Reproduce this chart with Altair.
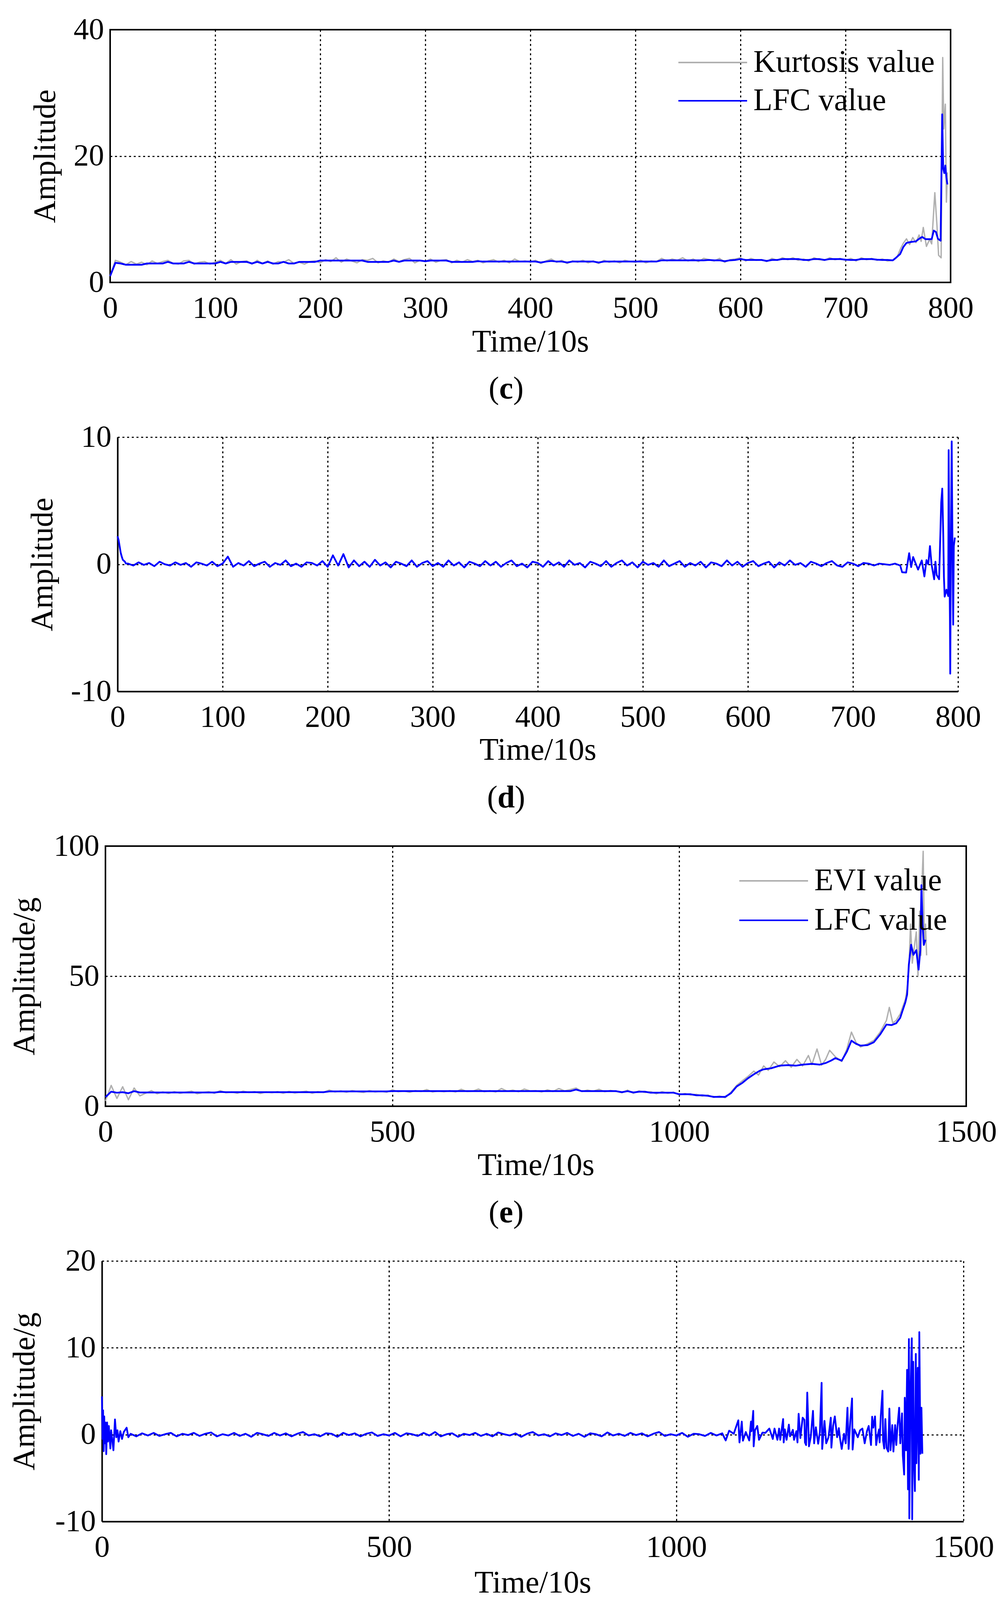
import altair as alt
import pandas as pd

FONT = "Liberation Serif"
BLUE = "#0000ff"
GRAY = "#b0b0b0"

# ---------------- panel (c): Kurtosis value / LFC value ----------------
# values every 5 units from t=0 to t=740
c_lfc_main = [
    1.0, 3.1, 3.0, 2.8, 2.8, 2.8, 2.8, 3.0, 3.0, 3.0,
    3.0, 3.25, 3.0, 3.0, 3.0, 3.25, 3.0, 3.0, 3.0, 3.0,
    3.0, 3.25, 3.0, 3.25, 3.25, 3.25, 3.25, 3.0, 3.25, 3.0,
    3.25, 3.0, 3.0, 3.25, 3.0, 3.0, 3.25, 3.25, 3.25, 3.25,
    3.46, 3.46, 3.46, 3.46, 3.46, 3.46, 3.46, 3.46, 3.46, 3.25,
    3.25, 3.25, 3.25, 3.25, 3.46, 3.25, 3.46, 3.46, 3.46, 3.46,
    3.35, 3.46, 3.46, 3.46, 3.46, 3.25, 3.25, 3.25, 3.25, 3.25,
    3.35, 3.3, 3.3, 3.3, 3.3, 3.3, 3.3, 3.3, 3.3, 3.3,
    3.3, 3.3, 3.15, 3.3, 3.4, 3.3, 3.3, 3.15, 3.3, 3.3,
    3.3, 3.3, 3.3, 3.15, 3.3, 3.3, 3.3, 3.3, 3.3, 3.3,
    3.3, 3.3, 3.3, 3.3, 3.3, 3.5, 3.5, 3.5, 3.5, 3.5,
    3.5, 3.5, 3.5, 3.5, 3.55, 3.5, 3.5, 3.35, 3.5, 3.55,
    3.7, 3.55, 3.55, 3.55, 3.55, 3.4, 3.55, 3.55, 3.7, 3.7,
    3.7, 3.7, 3.55, 3.55, 3.7, 3.7, 3.55, 3.7, 3.7, 3.7,
    3.6, 3.55, 3.55, 3.7, 3.7, 3.7, 3.6, 3.55, 3.55,
]
c_kurt_main = [
    1.0, 3.5, 3.2, 2.8, 3.3, 2.9, 3.2, 2.8, 3.4, 3.0,
    3.3, 3.5, 3.0, 2.9, 3.4, 3.5, 2.9, 3.2, 3.3, 2.9,
    3.2, 3.5, 3.0, 3.6, 2.9, 3.3, 3.4, 2.9, 3.5, 3.0,
    3.4, 2.9, 3.3, 3.2, 3.6, 3.0, 3.2, 2.9, 3.3, 3.4,
    3.1, 3.6, 3.3, 3.9, 3.2, 3.7, 3.4, 3.1, 3.6, 3.5,
    3.8, 3.1, 3.4, 3.2, 3.7, 3.3, 3.6, 3.8, 3.1, 3.5,
    3.3, 3.7, 3.2, 3.5, 3.6, 3.1, 3.5, 3.2, 3.6, 3.3,
    3.5, 3.1, 3.4, 3.6, 3.2, 3.5, 3.1, 3.7, 3.3, 3.4,
    3.2, 3.5, 3.0, 3.4, 3.7, 3.2, 3.5, 3.0, 3.4, 3.2,
    3.5, 3.1, 3.4, 3.0, 3.5, 3.2, 3.4, 3.1, 3.5, 3.3,
    3.2, 3.5, 3.1, 3.4, 3.3, 3.8, 3.4, 3.7, 3.5, 3.9,
    3.4, 3.7, 3.3, 3.8, 3.6, 3.4, 3.8, 3.2, 3.6, 3.7,
    3.9, 3.4, 3.8, 3.5, 3.6, 3.3, 3.8, 3.5, 3.9, 3.6,
    3.9, 3.5, 3.7, 3.4, 3.9, 3.6, 3.5, 3.9, 3.6, 3.8,
    3.5, 3.8, 3.4, 3.9, 3.6, 3.8, 3.5, 3.7, 3.4,
]
c_lfc_end_t = [745, 748, 752, 755, 758, 762, 767, 770, 773, 776, 782, 784, 786, 788, 790.5,
               792, 793, 794, 795, 796, 797]
c_lfc_end_v = [3.5, 3.9, 4.5, 5.6, 6.25, 6.4, 6.5, 6.9, 7.2, 6.85, 6.85, 8.2, 8.0, 6.9, 6.6,
               26.6, 18.0, 17.3, 18.5, 16.6, 15.5]
c_kurt_end_t = [745, 749, 752, 755, 758, 761, 764, 767, 770, 772, 774, 777, 780, 782, 785,
                787, 788.6, 791, 792.5, 793.5, 795, 796, 797]
c_kurt_end_v = [3.5, 4.0, 5.2, 6.2, 6.9, 6.0, 7.1, 6.3, 7.5, 6.5, 8.7, 5.7, 6.8, 6.1, 14.2,
                9.1, 4.3, 3.9, 35.6, 24.3, 28.2, 12.7, 17.4]

# ---------------- panel (d): LFC difference ----------------
d_start_t = [0, 1, 2, 3, 4, 5, 7, 8]
d_start_v = [2.2, 1.9, 1.4, 0.9, 0.6, 0.35, 0.2, 0.05]
# values every 5 units from t=10 to t=745
d_main = [
    0.05, -0.1, 0.15, -0.05, 0.1, -0.15, 0.2, 0.0, -0.1, 0.15,
    -0.05, 0.1, -0.2, 0.15, 0.05, -0.1, 0.2, -0.15, 0.05, 0.6,
    -0.2, 0.1, -0.1, 0.25, -0.15, 0.05, 0.2, -0.2, 0.1, -0.05,
    0.3, -0.15, 0.05, -0.2, 0.15, 0.1, -0.1, 0.25, -0.2, 0.7,
    -0.1, 0.8, -0.25, 0.3, -0.15, 0.2, -0.2, 0.35, -0.1, 0.15,
    -0.25, 0.2, 0.05, -0.15, 0.3, -0.2, 0.1, 0.25, -0.15, 0.1,
    -0.2, 0.3, -0.1, 0.15, -0.25, 0.2, 0.05, -0.15, 0.25, -0.1,
    0.2, -0.2, 0.1, 0.3, -0.15, 0.05, -0.25, 0.2, 0.1, -0.2,
    0.25, -0.1, 0.15, -0.2, 0.3, -0.05, 0.1, -0.25, 0.2, 0.05,
    -0.15, 0.25, -0.2, 0.1, 0.3, -0.1, 0.15, -0.25, 0.2, -0.05,
    0.1, -0.2, 0.3, -0.15, 0.05, 0.25, -0.2, 0.1, -0.1, 0.2,
    -0.25, 0.15, 0.05, -0.15, 0.3, -0.1, 0.2, -0.2, 0.1, 0.25,
    -0.15, 0.05, 0.2, -0.25, 0.15, -0.1, 0.3, -0.05, 0.1, -0.2,
    0.2, 0.05, -0.15, 0.1, 0.25, -0.1, -0.2, 0.15, 0.05, -0.15,
    0.1, 0.05, -0.1, 0.05, 0.0, -0.05, 0.05, -0.1,
]
d_end_t = [746.8, 750.6, 753.5, 755.4, 757.3, 759, 762, 765.5, 768, 770, 771.7, 773.3, 774.8,
           777.3, 778.5, 779.7, 782, 783.2, 784, 785, 786, 786.6, 787.3, 789, 790.7, 791.1,
           791.6, 792.3, 792.6, 793.3, 794, 794.8, 795.4, 796, 797]
d_end_v = [-0.63, -0.65, 0.87, -0.22, 0.57, 0.2, -0.42, 0.3, -0.96, 0.33, 0.0, 1.43, 0.0,
           -1.18, 0.2, -0.85, -1.18, 2.38, 4.85, 5.95, 2.1, -1.0, -2.55, -2.0, -2.5, 8.98,
           2.1, -4.3, -8.6, 2.66, 9.66, 0.7, -4.75, 1.43, 2.1]

# ---------------- panel (e): EVI value / LFC value ----------------
# values every 10 units from t=0 to t=1080
e_lfc_main = [
    3.5, 5.6, 5.2, 5.4, 5.0, 5.8, 5.3, 5.3, 5.3, 5.3,
    5.3, 5.3, 5.3, 5.3, 5.3, 5.3, 5.3, 5.3, 5.3, 5.3,
    5.5, 5.4, 5.4, 5.4, 5.4, 5.4, 5.4, 5.4, 5.4, 5.4,
    5.4, 5.4, 5.4, 5.4, 5.4, 5.4, 5.4, 5.4, 5.4, 5.7,
    5.7, 5.7, 5.7, 5.7, 5.7, 5.7, 5.7, 5.7, 5.7, 5.7,
    5.8, 5.8, 5.8, 5.8, 5.8, 5.8, 5.8, 5.8, 5.8, 5.8,
    5.8, 5.8, 5.8, 5.8, 5.8, 5.8, 5.8, 5.8, 5.8, 5.8,
    5.8, 5.8, 5.8, 5.8, 5.8, 5.8, 5.8, 5.8, 5.8, 5.8,
    5.8, 5.8, 6.4, 5.8, 5.8, 5.8, 5.8, 5.8, 5.8, 5.8,
    5.4, 5.8, 5.3, 5.6, 5.6, 5.2, 5.2, 5.2, 5.2, 5.2,
    4.6, 4.6, 4.6, 4.2, 4.2, 4.0, 3.6, 3.6, 3.6,
]
e_evi_main = [
    2.0, 8.0, 3.0, 7.5, 2.5, 7.0, 4.0, 5.0, 6.0, 4.8,
    5.5, 4.9, 5.6, 5.0, 5.4, 5.8, 4.8, 5.3, 5.6, 5.0,
    6.0, 5.2, 5.5, 5.0, 5.8, 5.3, 5.6, 4.9, 5.5, 5.2,
    5.6, 5.0, 5.7, 5.1, 5.5, 5.8, 5.0, 5.6, 5.3, 6.2,
    5.5, 5.9, 5.4, 6.0, 5.6, 5.3, 6.0, 5.5, 5.8, 5.4,
    6.3, 5.6, 5.9, 5.4, 6.0, 5.7, 6.4, 5.5, 5.9, 5.6,
    6.0, 5.5, 6.5, 5.7, 5.8, 6.6, 5.6, 6.0, 5.5, 6.8,
    5.8, 6.2, 5.6, 6.6, 5.9, 6.0, 5.5, 6.3, 5.7, 6.8,
    5.9, 6.4, 7.0, 5.7, 6.2, 5.8, 6.5, 5.6, 6.1, 5.7,
    5.2, 6.2, 5.0, 5.9, 5.3, 5.6, 4.8, 5.6, 5.0, 5.4,
    4.4, 4.9, 4.3, 4.6, 3.9, 4.3, 3.4, 3.9, 3.3,
]
e_lfc_end_t = [1090, 1100, 1110, 1120, 1130, 1140, 1147, 1160, 1175, 1190, 1203, 1215, 1231,
               1245, 1255, 1265, 1272, 1283, 1292, 1300, 1308, 1316, 1328, 1339, 1350, 1361,
               1370, 1378, 1385, 1389, 1394, 1397, 1400, 1404, 1408, 1413, 1417, 1420, 1422,
               1424, 1426, 1429]
e_lfc_end_v = [5.0, 7.6, 9.0, 10.8, 12.3, 13.6, 14.2, 14.6, 15.6, 15.8, 15.6, 16.0, 16.3,
               16.0, 16.6, 17.6, 18.5, 17.5, 21.0, 25.2, 24.0, 23.3, 23.5, 24.6, 27.6, 31.4,
               31.2, 31.9, 34.0, 36.7, 40.0, 42.9, 54.4, 62.1, 58.2, 60.0, 52.5, 60.0, 85.0,
               70.0, 62.0, 64.0]
e_evi_end_t = [1090, 1100, 1110, 1120, 1130, 1138, 1147, 1155, 1165, 1175, 1185, 1195, 1205,
               1215, 1225, 1231, 1240, 1248, 1255, 1262, 1272, 1283, 1292, 1300, 1308, 1316,
               1328, 1339, 1350, 1361, 1366, 1372, 1378, 1385, 1389, 1394, 1397, 1400, 1403,
               1406, 1410, 1413, 1416, 1419, 1421, 1423, 1425, 1427, 1429, 1431]
e_evi_end_v = [5.4, 8.0, 9.8, 11.5, 13.5, 12.0, 15.5, 13.8, 17.0, 15.2, 17.5, 15.0, 18.0,
               15.5, 19.5, 16.0, 22.0, 15.8, 18.0, 21.5, 19.0, 17.2, 22.0, 28.5, 24.5, 22.8,
               24.0, 25.3, 28.5, 33.0, 38.0, 32.0, 33.0, 35.5, 38.0, 41.0, 45.0, 52.0, 70.0,
               55.0, 62.0, 67.0, 50.0, 75.0, 58.0, 86.0, 98.0, 62.0, 70.0, 58.0]

# ---------------- panel (f): EVI-based LFC difference ----------------
f_start_t = [0, 1, 2, 3, 4, 5, 6, 7.5, 9, 10.5, 12, 14.7, 16, 18, 20, 22.7, 25, 27, 29, 32,
             35, 38, 43, 46]
f_start_v = [4.4, -0.5, 2.8, -1.9, 2.1, -1.0, 1.4, -2.25, 1.4, -0.8, 1.0, -1.6, 0.5, -0.6,
             -1.8, 1.75, -0.3, 0.5, -0.8, 0.4, -0.5, 0.3, 0.8, -0.3]
# values every 10 units from t=50 to t=1080
f_main = [
    0.1, -0.2, 0.15, -0.1, 0.2, -0.15, 0.05, 0.2, -0.2, 0.1,
    -0.05, 0.2, -0.15, 0.1, 0.25, -0.2, 0.05, -0.1, 0.2, -0.15,
    0.1, -0.25, 0.2, 0.05, -0.15, 0.2, -0.1, 0.15, -0.2, 0.1,
    0.3, -0.1, 0.05, -0.2, 0.15, 0.1, -0.25, 0.2, -0.05, 0.15,
    -0.2, 0.1, 0.25, -0.15, 0.05, -0.1, 0.2, -0.2, 0.15, 0.05,
    -0.15, 0.2, -0.1, 0.3, -0.2, 0.05, 0.15, -0.25, 0.1, -0.05,
    0.2, -0.15, 0.1, -0.2, 0.25, 0.05, -0.1, 0.15, -0.25, 0.1,
    0.3, -0.1, 0.05, -0.2, 0.15, -0.05, 0.2, -0.15, 0.1, -0.25,
    0.15, 0.05, -0.2, 0.25, -0.1, 0.1, -0.15, 0.2, -0.05, 0.15,
    -0.2, 0.1, 0.3, -0.15, 0.05, -0.1, 0.2, -0.25, 0.1, 0.05,
    -0.15, 0.2, -0.1, 0.15,
]
f_end_t = [1086, 1092, 1100, 1108, 1110, 1114, 1116, 1121, 1127, 1130, 1131, 1134, 1134.7,
           1137, 1141, 1144, 1150, 1155, 1162, 1168, 1171, 1176, 1179, 1181, 1186, 1187, 1189,
           1192, 1196, 1198, 1203, 1205, 1209, 1211, 1213, 1216, 1220, 1223, 1224, 1226, 1228,
           1231, 1234, 1238, 1240, 1243, 1247, 1250, 1253, 1254, 1258, 1261, 1265, 1269, 1270,
           1273, 1276, 1280, 1283, 1285, 1288, 1292, 1295, 1298, 1300, 1303, 1306, 1307, 1310,
           1316, 1320, 1324, 1328, 1332, 1335, 1339, 1341, 1343, 1346, 1348, 1350, 1353, 1354,
           1356, 1359, 1360, 1362, 1364, 1366, 1369, 1371, 1373, 1376, 1378, 1381, 1383, 1385,
           1388, 1390, 1393, 1394.4, 1396.7, 1397.8, 1400, 1401.8, 1403.4, 1405, 1405.7, 1408,
           1410, 1410.7, 1412.5, 1413.6, 1415.4, 1417, 1418, 1420.4, 1422.2, 1423.1, 1425,
           1426.8, 1428.4]
f_end_v = [-0.67, 0.45, 0.1, 1.65, -0.9, 1.5, -0.7, 0.3, -0.67, 1.5, 0.4, 2.74, -1.35,
           0.5, 1.0, -0.6, 0.23, 0.2, 0.7, -0.5, 0.7, -0.6, 0.7, -0.6, 1.8, -0.9, 0.6,
           -0.6, 1.15, -0.2, 0.55, -0.6, 0.4, -0.9, 2.4, -0.4, 1.95, 1.7, -0.9, -1.2, 4.84,
           -1.35, -0.3, 2.74, -1.0, 0.85, -1.05, 0.3, 5.97, -1.65, 1.58, -1.0, -0.3, 1.95, -1.5,
           1.0, 2.1, -0.3, 0.75, -0.4, -1.65, 0.1, -1.0, 3.1, -1.65, 1.65, 4.17, -1.72, 0.6,
           -0.3, 0.5, 0.7, -1.0, 0.4, 1.0, -1.2, 2.06, 0.8, 2.1, -1.2, -0.3, 0.6, -0.9,
           2.1, 5.06, -0.65, -1.6, 1.8, -1.5, -1.95, 3.0, -1.8, 1.1, -1.95, 1.1, -1.2, 0.9,
           3.1, -1.0, 2.45, -2.4, -4.6, 4.25, -1.8, 7.46, -6.3, 11.0, -9.65, 5.4,
           11.1, -9.75, 8.4, -2.4, -6.5, 9.3, -3.3, 7.7, -5.2, 11.8, -2.2,
           3.1, -2.2]


def frame(t, v, name=""):
    return pd.DataFrame({"t": t, "v": v, "series": [name] * len(t)})


def x_axis(ticks, title_y, domain_line):
    return alt.Axis(
        values=ticks, grid=True, gridColor="black", gridDash=[5, 7], gridWidth=3,
        gridOpacity=1, domain=domain_line, domainColor="black", domainWidth=4,
        ticks=False, tickSize=0, labelFont=FONT, labelFontSize=78, labelColor="black",
        labelPadding=27, labelFlush=False, labelOverlap=False,
        labelExpr="'' + datum.value",
        title="Time/10s", titleFont=FONT, titleFontSize=80, titleFontWeight="normal",
        titleColor="black", titleBaseline="alphabetic", titleY=title_y,
    )


def y_axis(ticks, title, title_x, height, domain_line):
    return alt.Axis(
        values=ticks, grid=True, gridColor="black", gridDash=[5, 7], gridWidth=3,
        gridOpacity=1, domain=domain_line, domainColor="black", domainWidth=4,
        ticks=False, tickSize=0, labelFont=FONT, labelFontSize=78, labelColor="black",
        labelPadding=16, labelFlush=False, labelOverlap=False,
        labelExpr="'' + datum.value",
        title=title, titleFont=FONT, titleFontSize=80, titleFontWeight="normal",
        titleColor="black", titleBaseline="alphabetic", titleAngle=270,
        titleX=title_x, titleY=height / 2,
    )


def caption(letter, cx, cy, wletter):
    one = pd.DataFrame({"k": [0]})
    base = alt.Chart(one)
    lp = base.mark_text(text="(", font=FONT, fontSize=80, align="right",
                        baseline="alphabetic", color="black").encode(
        x=alt.value(cx - wletter / 2), y=alt.value(cy))
    lt = base.mark_text(text=letter, font=FONT, fontSize=80, fontWeight="bold",
                        align="center", baseline="alphabetic", color="black").encode(
        x=alt.value(cx), y=alt.value(cy))
    rp = base.mark_text(text=")", font=FONT, fontSize=80, align="left",
                        baseline="alphabetic", color="black").encode(
        x=alt.value(cx + wletter / 2), y=alt.value(cy))
    return [lp, lt, rp]


def panel(cfg):
    w, h = cfg["width"], cfg["height"]
    xs = alt.Scale(domain=cfg["xdom"], nice=False, zero=False)
    ys = alt.Scale(domain=cfg["ydom"], nice=False, zero=False)
    xa = x_axis(cfg["xticks"], cfg["xtitle_y"], not cfg["box"])
    ya = y_axis(cfg["yticks"], cfg["ytitle"], cfg["ytitle_x"], h, not cfg["box"])
    layers = []
    if cfg.get("legend"):
        names = cfg["names"]
        cscale = alt.Scale(domain=names, range=[GRAY, BLUE])
        lg = cfg["legend"]
        leg = alt.Legend(
            title=None, orient="none", legendX=lg["x"], legendY=lg["y"],
            symbolType="M-4,0H4", symbolSize=44 * 44, symbolStrokeWidth=4,
            labelFont=FONT, labelFontSize=80, labelColor="black", labelOffset=64,
            labelLimit=3000, rowPadding=lg["row"], padding=0, direction="vertical",
        )
        g = alt.Chart(cfg["gray"]).mark_line(strokeWidth=3.5, strokeJoin="round").encode(
            x=alt.X("t:Q", scale=xs, axis=xa),
            y=alt.Y("v:Q", scale=ys, axis=ya),
            color=alt.Color("series:N", scale=cscale, legend=leg),
        )
        b = alt.Chart(cfg["blue"]).mark_line(strokeWidth=4.5, strokeJoin="round").encode(
            x=alt.X("t:Q", scale=xs, axis=xa),
            y=alt.Y("v:Q", scale=ys, axis=ya),
            color=alt.Color("series:N", scale=cscale, legend=leg),
        )
        layers += [g, b]
    else:
        b = alt.Chart(cfg["blue"]).mark_line(strokeWidth=4.5, strokeJoin="round",
                                               color=BLUE).encode(
            x=alt.X("t:Q", scale=xs, axis=xa),
            y=alt.Y("v:Q", scale=ys, axis=ya),
        )
        layers.append(b)
    layers += caption(cfg["letter"], cfg["cap_x"], h + cfg["cap_dy"], cfg["wletter"])
    if cfg["box"]:
        view = alt.ViewBackground(stroke="black", strokeWidth=4, strokeOpacity=1)
    else:
        view = alt.ViewBackground(strokeOpacity=0)
    return alt.layer(*layers).properties(width=w, height=h, view=view)


def spacer(w, h):
    return alt.Chart(pd.DataFrame({"k": [0]})).mark_point(opacity=0).encode(
        x=alt.value(w / 2), y=alt.value(h / 2)
    ).properties(width=w, height=h, view=alt.ViewBackground(strokeOpacity=0))


ORIGIN = 16
RIGHT_EDGE = 2573
CAPTION_CENTER = 1296

cfgs = [
    dict(left=282, width=2152, height=647, xdom=[0, 800], xticks=list(range(0, 801, 100)),
         ydom=[0, 40], yticks=[0, 20, 40], box=True, ytitle="Amplitude", ytitle_base=140,
         xtitle_y=176, letter="c", wletter=36, cap_dy=297,
         names=["Kurtosis value", "LFC value"],
         gray=frame([5 * i for i in range(len(c_kurt_main))] + c_kurt_end_t,
                    c_kurt_main + c_kurt_end_v, "Kurtosis value"),
         blue=frame([5 * i for i in range(len(c_lfc_main))] + c_lfc_end_t,
                    c_lfc_main + c_lfc_end_v, "LFC value"),
         legend=dict(x=1769, y=44, row=18)),
    dict(left=301, width=2152, height=651, xdom=[0, 800], xticks=list(range(0, 801, 100)),
         ydom=[-10, 10], yticks=[-10, 0, 10], box=False, ytitle="Amplitude", ytitle_base=133,
         xtitle_y=174, letter="d", wletter=44, cap_dy=297,
         blue=frame(d_start_t + [10 + 5 * i for i in range(len(d_main))] + d_end_t,
                    d_start_v + d_main + d_end_v)),
    dict(left=270, width=2204, height=666, xdom=[0, 1500], xticks=[0, 500, 1000, 1500],
         ydom=[0, 100], yticks=[0, 50, 100], box=True, ytitle="Amplitude/g", ytitle_base=87,
         xtitle_y=175, letter="e", wletter=36, cap_dy=297,
         names=["EVI value", "LFC value"],
         gray=frame([10 * i for i in range(len(e_evi_main))] + e_evi_end_t,
                    e_evi_main + e_evi_end_v, "EVI value"),
         blue=frame([10 * i for i in range(len(e_lfc_main))] + e_lfc_end_t,
                    e_lfc_main + e_lfc_end_v, "LFC value"),
         legend=dict(x=1925, y=49, row=21)),
    dict(left=261, width=2206, height=667, xdom=[0, 1500], xticks=[0, 500, 1000, 1500],
         ydom=[-10, 20], yticks=[-10, 0, 10, 20], box=False, ytitle="Amplitude/g",
         ytitle_base=87, xtitle_y=181, letter="f", wletter=27, cap_dy=303,
         blue=frame(f_start_t + [50 + 10 * i for i in range(len(f_main))] + f_end_t,
                    f_start_v + f_main + f_end_v)),
]

rows = []
for cfg in cfgs:
    cfg["ytitle_x"] = cfg["ytitle_base"] - cfg["left"]
    cfg["cap_x"] = CAPTION_CENTER - cfg["left"]
    right_w = RIGHT_EDGE - (cfg["left"] + cfg["width"])
    rows.append(alt.hconcat(spacer(cfg["left"] - ORIGIN, cfg["height"]), panel(cfg),
                            spacer(right_w, cfg["height"]), spacing=0, bounds="flush"))

chart = alt.concat(*rows, columns=1, spacing=42, align="none").resolve_scale(
    color="independent"
).resolve_legend(color="independent").properties(
    padding={"left": 8, "top": 27, "right": 0, "bottom": 230},
    background="white",
).configure_view(strokeOpacity=0)

chart.save("out.html", embed_options={"renderer": "svg", "actions": False})
